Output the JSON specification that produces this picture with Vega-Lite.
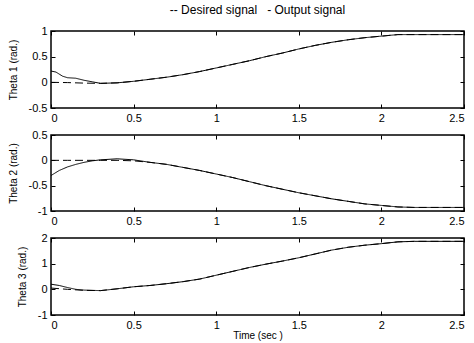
{
  "$schema": "https://vega.github.io/schema/vega-lite/v6.json",
  "padding": {"left": 7, "top": 3, "right": 5, "bottom": 2},
  "spacing": 27,
  "bounds": "flush",
  "config": {
    "font": "Liberation Sans",
    "view": {"stroke": "black", "strokeWidth": 1.5},
    "axis": {"grid": false, "domain": false, "tickColor": "black", "tickSize": -4, "labelFont": "Liberation Sans", "labelFontSize": 11, "labelColor": "black", "titleFont": "Liberation Sans", "titleFontSize": 10, "titleFontWeight": "normal", "titleColor": "black", "labelPadding": 8, "titlePadding": 10}
  },
  "datasets": {
    "pts": [
      {"t": 0, "j": 1, "s": "Desired", "v": 0},
      {"t": 0.1, "j": 1, "s": "Desired", "v": -0.005},
      {"t": 0.2, "j": 1, "s": "Desired", "v": -0.015},
      {"t": 0.3, "j": 1, "s": "Desired", "v": -0.02},
      {"t": 0.4, "j": 1, "s": "Desired", "v": -0.01},
      {"t": 0.5, "j": 1, "s": "Desired", "v": 0.02},
      {"t": 0.6, "j": 1, "s": "Desired", "v": 0.06},
      {"t": 0.7, "j": 1, "s": "Desired", "v": 0.1},
      {"t": 0.8, "j": 1, "s": "Desired", "v": 0.15},
      {"t": 0.9, "j": 1, "s": "Desired", "v": 0.21},
      {"t": 1.0, "j": 1, "s": "Desired", "v": 0.28},
      {"t": 1.1, "j": 1, "s": "Desired", "v": 0.35},
      {"t": 1.2, "j": 1, "s": "Desired", "v": 0.42},
      {"t": 1.3, "j": 1, "s": "Desired", "v": 0.5},
      {"t": 1.4, "j": 1, "s": "Desired", "v": 0.57},
      {"t": 1.5, "j": 1, "s": "Desired", "v": 0.65},
      {"t": 1.6, "j": 1, "s": "Desired", "v": 0.72},
      {"t": 1.7, "j": 1, "s": "Desired", "v": 0.78},
      {"t": 1.8, "j": 1, "s": "Desired", "v": 0.83},
      {"t": 1.9, "j": 1, "s": "Desired", "v": 0.87},
      {"t": 2.0, "j": 1, "s": "Desired", "v": 0.9},
      {"t": 2.1, "j": 1, "s": "Desired", "v": 0.93},
      {"t": 2.2, "j": 1, "s": "Desired", "v": 0.93},
      {"t": 2.5, "j": 1, "s": "Desired", "v": 0.93},
      {"t": 0, "j": 1, "s": "Output", "v": 0.22},
      {"t": 0.03, "j": 1, "s": "Output", "v": 0.2},
      {"t": 0.07, "j": 1, "s": "Output", "v": 0.12},
      {"t": 0.1, "j": 1, "s": "Output", "v": 0.09},
      {"t": 0.15, "j": 1, "s": "Output", "v": 0.08},
      {"t": 0.2, "j": 1, "s": "Output", "v": 0.04},
      {"t": 0.25, "j": 1, "s": "Output", "v": 0.01},
      {"t": 0.3, "j": 1, "s": "Output", "v": -0.02},
      {"t": 0.4, "j": 1, "s": "Output", "v": -0.01},
      {"t": 0.5, "j": 1, "s": "Output", "v": 0.02},
      {"t": 0.6, "j": 1, "s": "Output", "v": 0.06},
      {"t": 0.7, "j": 1, "s": "Output", "v": 0.1},
      {"t": 0.8, "j": 1, "s": "Output", "v": 0.15},
      {"t": 0.9, "j": 1, "s": "Output", "v": 0.21},
      {"t": 1.0, "j": 1, "s": "Output", "v": 0.28},
      {"t": 1.1, "j": 1, "s": "Output", "v": 0.35},
      {"t": 1.2, "j": 1, "s": "Output", "v": 0.42},
      {"t": 1.3, "j": 1, "s": "Output", "v": 0.5},
      {"t": 1.4, "j": 1, "s": "Output", "v": 0.57},
      {"t": 1.5, "j": 1, "s": "Output", "v": 0.65},
      {"t": 1.6, "j": 1, "s": "Output", "v": 0.72},
      {"t": 1.7, "j": 1, "s": "Output", "v": 0.78},
      {"t": 1.8, "j": 1, "s": "Output", "v": 0.83},
      {"t": 1.9, "j": 1, "s": "Output", "v": 0.87},
      {"t": 2.0, "j": 1, "s": "Output", "v": 0.9},
      {"t": 2.1, "j": 1, "s": "Output", "v": 0.93},
      {"t": 2.2, "j": 1, "s": "Output", "v": 0.93},
      {"t": 2.5, "j": 1, "s": "Output", "v": 0.93},

      {"t": 0, "j": 2, "s": "Desired", "v": 0},
      {"t": 0.1, "j": 2, "s": "Desired", "v": 0},
      {"t": 0.2, "j": 2, "s": "Desired", "v": 0},
      {"t": 0.3, "j": 2, "s": "Desired", "v": 0.0},
      {"t": 0.4, "j": 2, "s": "Desired", "v": 0.0},
      {"t": 0.5, "j": 2, "s": "Desired", "v": -0.01},
      {"t": 0.6, "j": 2, "s": "Desired", "v": -0.04},
      {"t": 0.7, "j": 2, "s": "Desired", "v": -0.08},
      {"t": 0.8, "j": 2, "s": "Desired", "v": -0.14},
      {"t": 0.9, "j": 2, "s": "Desired", "v": -0.2},
      {"t": 1.0, "j": 2, "s": "Desired", "v": -0.27},
      {"t": 1.1, "j": 2, "s": "Desired", "v": -0.34},
      {"t": 1.2, "j": 2, "s": "Desired", "v": -0.42},
      {"t": 1.3, "j": 2, "s": "Desired", "v": -0.5},
      {"t": 1.4, "j": 2, "s": "Desired", "v": -0.57},
      {"t": 1.5, "j": 2, "s": "Desired", "v": -0.64},
      {"t": 1.6, "j": 2, "s": "Desired", "v": -0.7},
      {"t": 1.7, "j": 2, "s": "Desired", "v": -0.76},
      {"t": 1.8, "j": 2, "s": "Desired", "v": -0.81},
      {"t": 1.9, "j": 2, "s": "Desired", "v": -0.86},
      {"t": 2.0, "j": 2, "s": "Desired", "v": -0.89},
      {"t": 2.1, "j": 2, "s": "Desired", "v": -0.92},
      {"t": 2.2, "j": 2, "s": "Desired", "v": -0.93},
      {"t": 2.5, "j": 2, "s": "Desired", "v": -0.93},
      {"t": 0, "j": 2, "s": "Output", "v": -0.3},
      {"t": 0.05, "j": 2, "s": "Output", "v": -0.2},
      {"t": 0.1, "j": 2, "s": "Output", "v": -0.13},
      {"t": 0.15, "j": 2, "s": "Output", "v": -0.08},
      {"t": 0.2, "j": 2, "s": "Output", "v": -0.04},
      {"t": 0.25, "j": 2, "s": "Output", "v": -0.01},
      {"t": 0.3, "j": 2, "s": "Output", "v": 0.01},
      {"t": 0.4, "j": 2, "s": "Output", "v": 0.03},
      {"t": 0.5, "j": 2, "s": "Output", "v": 0.01},
      {"t": 0.6, "j": 2, "s": "Output", "v": -0.04},
      {"t": 0.7, "j": 2, "s": "Output", "v": -0.08},
      {"t": 0.8, "j": 2, "s": "Output", "v": -0.14},
      {"t": 0.9, "j": 2, "s": "Output", "v": -0.2},
      {"t": 1.0, "j": 2, "s": "Output", "v": -0.27},
      {"t": 1.1, "j": 2, "s": "Output", "v": -0.34},
      {"t": 1.2, "j": 2, "s": "Output", "v": -0.42},
      {"t": 1.3, "j": 2, "s": "Output", "v": -0.5},
      {"t": 1.4, "j": 2, "s": "Output", "v": -0.57},
      {"t": 1.5, "j": 2, "s": "Output", "v": -0.64},
      {"t": 1.6, "j": 2, "s": "Output", "v": -0.7},
      {"t": 1.7, "j": 2, "s": "Output", "v": -0.76},
      {"t": 1.8, "j": 2, "s": "Output", "v": -0.81},
      {"t": 1.9, "j": 2, "s": "Output", "v": -0.86},
      {"t": 2.0, "j": 2, "s": "Output", "v": -0.89},
      {"t": 2.1, "j": 2, "s": "Output", "v": -0.92},
      {"t": 2.2, "j": 2, "s": "Output", "v": -0.93},
      {"t": 2.5, "j": 2, "s": "Output", "v": -0.93},

      {"t": 0, "j": 3, "s": "Desired", "v": 0.05},
      {"t": 0.1, "j": 3, "s": "Desired", "v": 0.0},
      {"t": 0.2, "j": 3, "s": "Desired", "v": -0.04},
      {"t": 0.3, "j": 3, "s": "Desired", "v": -0.05},
      {"t": 0.4, "j": 3, "s": "Desired", "v": 0.02},
      {"t": 0.5, "j": 3, "s": "Desired", "v": 0.1},
      {"t": 0.6, "j": 3, "s": "Desired", "v": 0.15},
      {"t": 0.7, "j": 3, "s": "Desired", "v": 0.22},
      {"t": 0.8, "j": 3, "s": "Desired", "v": 0.3},
      {"t": 0.9, "j": 3, "s": "Desired", "v": 0.4},
      {"t": 1.0, "j": 3, "s": "Desired", "v": 0.55},
      {"t": 1.1, "j": 3, "s": "Desired", "v": 0.7},
      {"t": 1.2, "j": 3, "s": "Desired", "v": 0.85},
      {"t": 1.3, "j": 3, "s": "Desired", "v": 0.98},
      {"t": 1.4, "j": 3, "s": "Desired", "v": 1.1},
      {"t": 1.5, "j": 3, "s": "Desired", "v": 1.23},
      {"t": 1.6, "j": 3, "s": "Desired", "v": 1.38},
      {"t": 1.7, "j": 3, "s": "Desired", "v": 1.53},
      {"t": 1.8, "j": 3, "s": "Desired", "v": 1.64},
      {"t": 1.9, "j": 3, "s": "Desired", "v": 1.72},
      {"t": 2.0, "j": 3, "s": "Desired", "v": 1.78},
      {"t": 2.1, "j": 3, "s": "Desired", "v": 1.85},
      {"t": 2.2, "j": 3, "s": "Desired", "v": 1.87},
      {"t": 2.5, "j": 3, "s": "Desired", "v": 1.87},
      {"t": 0, "j": 3, "s": "Output", "v": 0.2},
      {"t": 0.05, "j": 3, "s": "Output", "v": 0.15},
      {"t": 0.1, "j": 3, "s": "Output", "v": 0.07},
      {"t": 0.15, "j": 3, "s": "Output", "v": 0.0},
      {"t": 0.2, "j": 3, "s": "Output", "v": -0.03},
      {"t": 0.3, "j": 3, "s": "Output", "v": -0.05},
      {"t": 0.4, "j": 3, "s": "Output", "v": 0.02},
      {"t": 0.5, "j": 3, "s": "Output", "v": 0.1},
      {"t": 0.6, "j": 3, "s": "Output", "v": 0.15},
      {"t": 0.7, "j": 3, "s": "Output", "v": 0.22},
      {"t": 0.8, "j": 3, "s": "Output", "v": 0.3},
      {"t": 0.9, "j": 3, "s": "Output", "v": 0.4},
      {"t": 1.0, "j": 3, "s": "Output", "v": 0.55},
      {"t": 1.1, "j": 3, "s": "Output", "v": 0.7},
      {"t": 1.2, "j": 3, "s": "Output", "v": 0.85},
      {"t": 1.3, "j": 3, "s": "Output", "v": 0.98},
      {"t": 1.4, "j": 3, "s": "Output", "v": 1.1},
      {"t": 1.5, "j": 3, "s": "Output", "v": 1.23},
      {"t": 1.6, "j": 3, "s": "Output", "v": 1.38},
      {"t": 1.7, "j": 3, "s": "Output", "v": 1.53},
      {"t": 1.8, "j": 3, "s": "Output", "v": 1.64},
      {"t": 1.9, "j": 3, "s": "Output", "v": 1.72},
      {"t": 2.0, "j": 3, "s": "Output", "v": 1.78},
      {"t": 2.1, "j": 3, "s": "Output", "v": 1.85},
      {"t": 2.2, "j": 3, "s": "Output", "v": 1.87},
      {"t": 2.5, "j": 3, "s": "Output", "v": 1.87}
    ]
  },
  "vconcat": [
    {
      "width": 413, "height": 77,
      "title": {"text": "-- Desired signal \u00a0\u00a0- Output signal", "fontSize": 12, "fontWeight": "normal", "font": "Liberation Sans", "anchor": "middle", "offset": 8},
      "data": {"name": "pts"},
      "transform": [{"filter": "datum.j == 1"}],
      "layer": [
        {"mark": {"type": "line", "color": "black", "strokeWidth": 1},
         "encoding": {
           "x": {"field": "t", "type": "quantitative", "scale": {"domain": [0, 2.5], "nice": false}, "axis": {"values": [0, 0.5, 1, 1.5, 2, 2.5], "title": null, "labelExpr": "'' + datum.value"}},
           "y": {"field": "v", "type": "quantitative", "scale": {"domain": [-0.5, 1], "nice": false}, "axis": {"values": [-0.5, 0, 0.5, 1], "title": "Theta 1 (rad.)", "labelExpr": "'' + datum.value"}},
           "strokeDash": {"field": "s", "type": "nominal", "scale": {"domain": ["Desired", "Output"], "range": [[8, 4], [1, 0]]}, "legend": null}
         }},
        {"mark": {"type": "line", "opacity": 0},
         "encoding": {
           "x": {"field": "t", "type": "quantitative", "axis": {"orient": "top", "values": [0, 0.5, 1, 1.5, 2, 2.5], "labels": false, "title": null}},
           "y": {"field": "v", "type": "quantitative", "axis": {"orient": "right", "values": [-0.5, 0, 0.5, 1], "labels": false, "title": null}}
         }}
      ],
      "resolve": {"axis": {"x": "independent", "y": "independent"}}
    },
    {
      "width": 413, "height": 76,
      "data": {"name": "pts"},
      "transform": [{"filter": "datum.j == 2"}],
      "layer": [
        {"mark": {"type": "line", "color": "black", "strokeWidth": 1},
         "encoding": {
           "x": {"field": "t", "type": "quantitative", "scale": {"domain": [0, 2.5], "nice": false}, "axis": {"values": [0, 0.5, 1, 1.5, 2, 2.5], "title": null, "labelExpr": "'' + datum.value"}},
           "y": {"field": "v", "type": "quantitative", "scale": {"domain": [-1, 0.5], "nice": false}, "axis": {"values": [-1, -0.5, 0, 0.5], "title": "Theta 2 (rad.)", "labelExpr": "'' + datum.value"}},
           "strokeDash": {"field": "s", "type": "nominal", "scale": {"domain": ["Desired", "Output"], "range": [[8, 4], [1, 0]]}, "legend": null}
         }},
        {"mark": {"type": "line", "opacity": 0},
         "encoding": {
           "x": {"field": "t", "type": "quantitative", "axis": {"orient": "top", "values": [0, 0.5, 1, 1.5, 2, 2.5], "labels": false, "title": null}},
           "y": {"field": "v", "type": "quantitative", "axis": {"orient": "right", "values": [-1, -0.5, 0, 0.5], "labels": false, "title": null}}
         }}
      ],
      "resolve": {"axis": {"x": "independent", "y": "independent"}}
    },
    {
      "width": 413, "height": 77,
      "data": {"name": "pts"},
      "transform": [{"filter": "datum.j == 3"}],
      "layer": [
        {"mark": {"type": "line", "color": "black", "strokeWidth": 1},
         "encoding": {
           "x": {"field": "t", "type": "quantitative", "scale": {"domain": [0, 2.5], "nice": false}, "axis": {"values": [0, 0.5, 1, 1.5, 2, 2.5], "title": "Time (sec )", "titlePadding": 0, "labelExpr": "'' + datum.value"}},
           "y": {"field": "v", "type": "quantitative", "scale": {"domain": [-1, 2], "nice": false}, "axis": {"values": [-1, 0, 1, 2], "title": "Theta 3 (rad.)", "labelExpr": "'' + datum.value"}},
           "strokeDash": {"field": "s", "type": "nominal", "scale": {"domain": ["Desired", "Output"], "range": [[8, 4], [1, 0]]}, "legend": null}
         }},
        {"mark": {"type": "line", "opacity": 0},
         "encoding": {
           "x": {"field": "t", "type": "quantitative", "axis": {"orient": "top", "values": [0, 0.5, 1, 1.5, 2, 2.5], "labels": false, "title": null}},
           "y": {"field": "v", "type": "quantitative", "axis": {"orient": "right", "values": [-1, 0, 1, 2], "labels": false, "title": null}}
         }}
      ],
      "resolve": {"axis": {"x": "independent", "y": "independent"}}
    }
  ]
}
